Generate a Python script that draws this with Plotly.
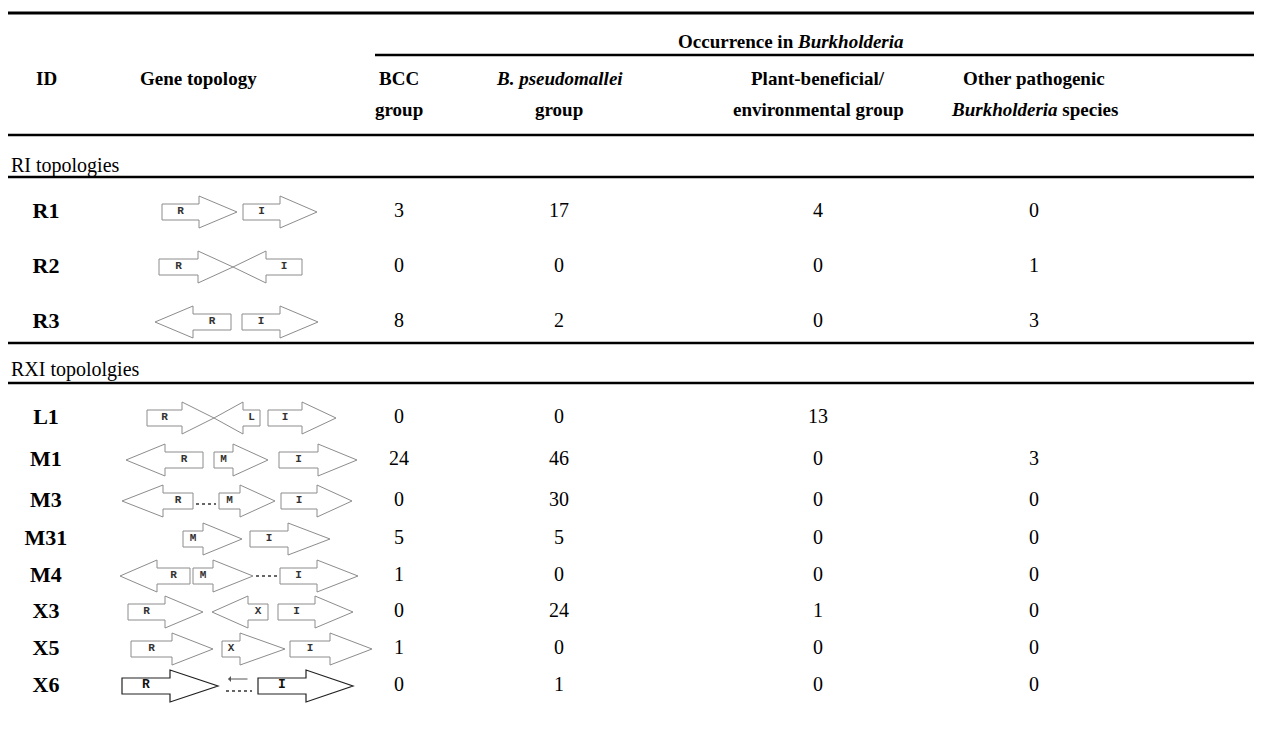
import plotly.graph_objects as go

# ---------------- data ----------------
ids = ["R1", "R2", "R3", "L1", "M1", "M3", "M31", "M4", "X3", "X5", "X6"]
topologies = ["R> I>", "R> <I", "<R I>", "R> <L I>", "<R M> I>", "<R ..M> I>",
              "M> I>", "<R M> ..I>", "R> <X I>", "R> X> I>", "R> <.. I>"]
bcc_group = ["3", "0", "8", "0", "24", "0", "5", "1", "0", "1", "0"]
pseudomallei_group = ["17", "0", "2", "0", "46", "30", "5", "0", "24", "0", "1"]
plant_env_group = ["4", "0", "0", "13", "0", "0", "0", "0", "1", "0", "0"]
other_pathogenic = ["0", "1", "3", "", "3", "0", "0", "0", "0", "0", "0"]
section_titles = ["RI topologies", "RXI topololgies"]
header_line1 = ["<b>ID</b>", "<b>Gene topology</b>", "<b>BCC</b>",
                "<b><i>B. pseudomallei</i></b>", "<b>Plant-beneficial/</b>",
                "<b>Other pathogenic</b>"]
header_line2 = ["", "", "<b>group</b>", "<b>group</b>", "<b>environmental group</b>",
                "<b><i>Burkholderia</i> species</b>"]
super_header = "<b>Occurrence in <i>Burkholderia</i></b>"

# ---------------- layout geometry (pixels) ----------------
W, H = 1262, 745
FONT = "Liberation Serif, Times New Roman, serif"
FS = 20        # body text
FS_HEAD = 19   # header text
FS_ID = 22     # ID column
col_x = [38, 190, 391, 551, 810, 1026]
row_y = [204, 259, 314, 410, 452, 493, 531, 568, 604, 641, 678]
section_y = [157, 361]
head_y = (33, 70, 101)
rule_y = [(5, 3), (127, 2.5), (169, 2.5), (335, 2.5), (375, 2.5)]
LX0, LX1 = 0, W
OCC_X0, OCC_Y = 367, 47

# glyph geometry per row: arrows (label, dir, a, b, c) / dots (x0, x1, dy)
glyph_geom = {
    "R1": [("R", 1, 154, 191, 229), ("I", 1, 235, 272, 309)],
    "R2": [("R", 1, 151, 190, 225), ("I", -1, 225, 258, 294)],
    "R3": [("R", -1, 147, 185, 223), ("I", 1, 234, 272, 310)],
    "L1": [("R", 1, 139, 174, 206), ("L", -1, 206, 235, 252), ("I", 1, 260, 294, 328)],
    "M1": [("R", -1, 118, 157, 195), ("M", 1, 206, 225, 260), ("I", 1, 271, 310, 349)],
    "M3": [("R", -1, 114, 155, 185), ("dots", 188, 208, 3), ("M", 1, 211, 232, 267),
           ("I", 1, 273, 309, 344)],
    "M31": [("M", 1, 175, 195, 234), ("I", 1, 242, 280, 322)],
    "M4": [("R", -1, 112, 149, 182), ("M", 1, 185, 205, 245), ("dots", 248, 269, 0),
           ("I", 1, 272, 309, 350)],
    "X3": [("R", 1, 120, 157, 195), ("X", -1, 204, 240, 260), ("I", 1, 270, 307, 345)],
    "X5": [("R", 1, 123, 164, 205), ("X", 1, 214, 232, 277), ("I", 1, 282, 322, 364)],
    "X6": [("R", 1, 114, 162, 210), ("dots", 218, 244, 5), ("larrow", 220, 241, -7),
           ("I", 1, 250, 298, 345)],
}
HS, HH = 8, 16  # shaft / head half heights

fig = go.Figure()
shapes = []
annotations = []

# horizontal rules
for y, w in rule_y:
    shapes.append(dict(type="line", x0=LX0, x1=LX1, y0=y, y1=y, layer="below",
                       line=dict(color="black", width=w)))
shapes.append(dict(type="line", x0=OCC_X0, x1=LX1, y0=OCC_Y, y1=OCC_Y, layer="below",
                   line=dict(color="black", width=2.5)))

# headers
annotations.append(dict(x=783, y=head_y[0], text=super_header, showarrow=False,
                        font=dict(family=FONT, size=FS_HEAD, color="black"),
                        xanchor="center", yanchor="middle"))
for cx, t1, t2 in zip(col_x, header_line1, header_line2):
    for yy, tt in ((head_y[1], t1), (head_y[2], t2)):
        if tt:
            annotations.append(dict(x=cx, y=yy, text=tt, showarrow=False,
                                    font=dict(family=FONT, size=FS_HEAD, color="black"),
                                    xanchor="center", yanchor="middle"))

# section titles
for sy, st in zip(section_y, section_titles):
    annotations.append(dict(x=1, y=sy, text=st, showarrow=False,
                            font=dict(family=FONT, size=FS, color="black"),
                            xanchor="left", yanchor="middle"))

# ID column
fig.add_trace(go.Scatter(x=[col_x[0]] * len(ids), y=row_y, mode="text",
                         text=["<b>%s</b>" % i for i in ids],
                         textfont=dict(family=FONT, size=FS_ID, color="black"),
                         hoverinfo="skip", showlegend=False))
# value columns
for cx, vals in zip(col_x[2:], [bcc_group, pseudomallei_group, plant_env_group, other_pathogenic]):
    fig.add_trace(go.Scatter(x=[cx] * len(vals), y=row_y, mode="text", text=vals,
                             textfont=dict(family=FONT, size=FS, color="black"),
                             hoverinfo="skip", showlegend=False))

# gene topology glyphs
lab_t, lab_big = [], []
for rid, y in zip(ids, row_y):
    big = rid == "X6"
    col = "#222222" if big else "#8c8c8c"
    for el in glyph_geom[rid]:
        kind = el[0]
        if kind == "dots":
            _, x0, x1, dy = el
            shapes.append(dict(type="line", x0=x0, x1=x1, y0=y + dy, y1=y + dy, layer="below",
                               line=dict(color="#666666", width=2, dash="dot")))
        elif kind == "larrow":
            _, x0, x1, dy = el
            annotations.append(dict(x=x0, y=y + dy, ax=x1, ay=y + dy, axref="x", ayref="y",
                                    xref="x", yref="y", text="", showarrow=True,
                                    arrowhead=1, arrowsize=1, arrowwidth=1,
                                    arrowcolor="#555555"))
        else:
            lab, d, a, b, c = el
            if d == 1:
                path = (f"M{a},{y-HS} L{b},{y-HS} L{b},{y-HH} L{c},{y} L{b},{y+HH} "
                        f"L{b},{y+HS} L{a},{y+HS} Z")
                lx = (a + b) / 2
            else:
                path = (f"M{c},{y-HS} L{b},{y-HS} L{b},{y-HH} L{a},{y} L{b},{y+HH} "
                        f"L{b},{y+HS} L{c},{y+HS} Z")
                lx = (b + c) / 2
            shapes.append(dict(type="path", path=path, fillcolor="white", layer="below",
                               line=dict(color=col, width=1.2 if big else 1)))
            (lab_big if big else lab_t).append((lx, y - 1, lab))

for group, size, colr in [(lab_t, 11, "#333333"), (lab_big, 13, "#111111")]:
    fig.add_trace(go.Scatter(x=[g[0] for g in group], y=[g[1] for g in group], mode="text",
                             text=["<b>%s</b>" % g[2] for g in group],
                             textfont=dict(family="Liberation Mono, Courier New, monospace",
                                           size=size, color=colr),
                             hoverinfo="skip", showlegend=False))

fig.update_layout(
    width=W, height=H, margin=dict(l=0, r=0, t=0, b=0),
    paper_bgcolor="white", plot_bgcolor="white",
    xaxis=dict(range=[0, W], visible=False, fixedrange=True),
    yaxis=dict(range=[H, 0], visible=False, fixedrange=True),
    shapes=shapes, annotations=annotations, showlegend=False,
)
fig.write_html("out.html")
